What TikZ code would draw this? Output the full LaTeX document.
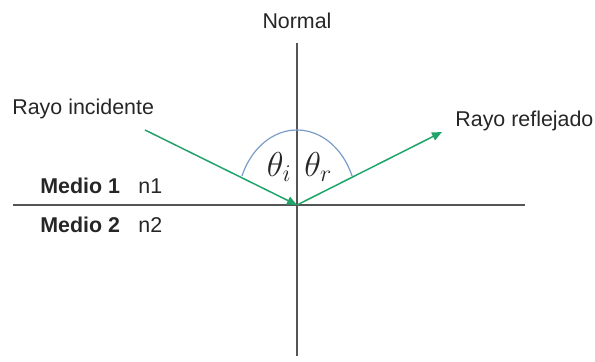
\documentclass[tikz,border=0pt]{standalone}
\usepackage{fontspec}
\setmainfont{Liberation Sans}
\usepackage{amsmath}
\usepackage{xcolor}
\usetikzlibrary{positioning,arrows.meta}
\definecolor{ray}{HTML}{21A36A}
\definecolor{axis}{HTML}{555555}
\definecolor{arcblue}{HTML}{7B9CC8}
\definecolor{ink}{HTML}{262626}

\begin{document}
\begin{tikzpicture}[x=0.5pt,y=0.5pt,
  lbl/.style={font=\fontsize{10.7}{12}\selectfont,color=ink,inner sep=0pt,anchor=base west},
  med/.style={lbl,font=\fontsize{10.7}{12}\selectfont\bfseries},
  ang/.style={font=\fontsize{17.5}{20}\selectfont,color=ink,inner sep=0pt},
  ln/.style={draw=axis,line width=0.75pt},
  ar/.style={-{Triangle[length=5pt,width=4.2pt]},draw=ray,line width=0.75pt},
]
\useasboundingbox (0,0) rectangle (595,362);

\coordinate (O)  at (297,157);
\coordinate (nt) at (297,319);
\coordinate (nb) at (297,6);
\coordinate (sl) at (13,157);
\coordinate (sr) at (525,157);
\coordinate (inc) at (145,232);
\coordinate (ref) at (442,230);

\draw[ln] (nt) -- (nb);
\draw[ln] (sl) -- (sr);

\draw[draw=arcblue,line width=0.6pt] (O) ++(22.7:59.7 and 75)
  arc[start angle=22.7,end angle=157.3,x radius=59.7,y radius=75];

\draw[ar] (inc) -- (O);
\draw[ar] (O) -- (ref);

\node[lbl,anchor=base] at (297,333) (normal) {Normal};
\node[lbl] at (12,247) (incl) {Rayo incidente};
\node[lbl] at (455,235) (refl) {Rayo reflejado};
\node[med] at (40,168) (m1) {Medio 1};
\node[lbl] at (138,168) (n1) {n1};
\node[med] at (40,129) (m2) {Medio 2};
\node[lbl] at (138,129) (n2) {n2};

\node[ang,anchor=base east] at (292,185.5) (thi) {$\theta_{\scriptstyle i}$};
\node[ang,anchor=base west] at (304,185.5) (thr) {$\theta_{\scriptstyle r}$};
\end{tikzpicture}
\end{document}
